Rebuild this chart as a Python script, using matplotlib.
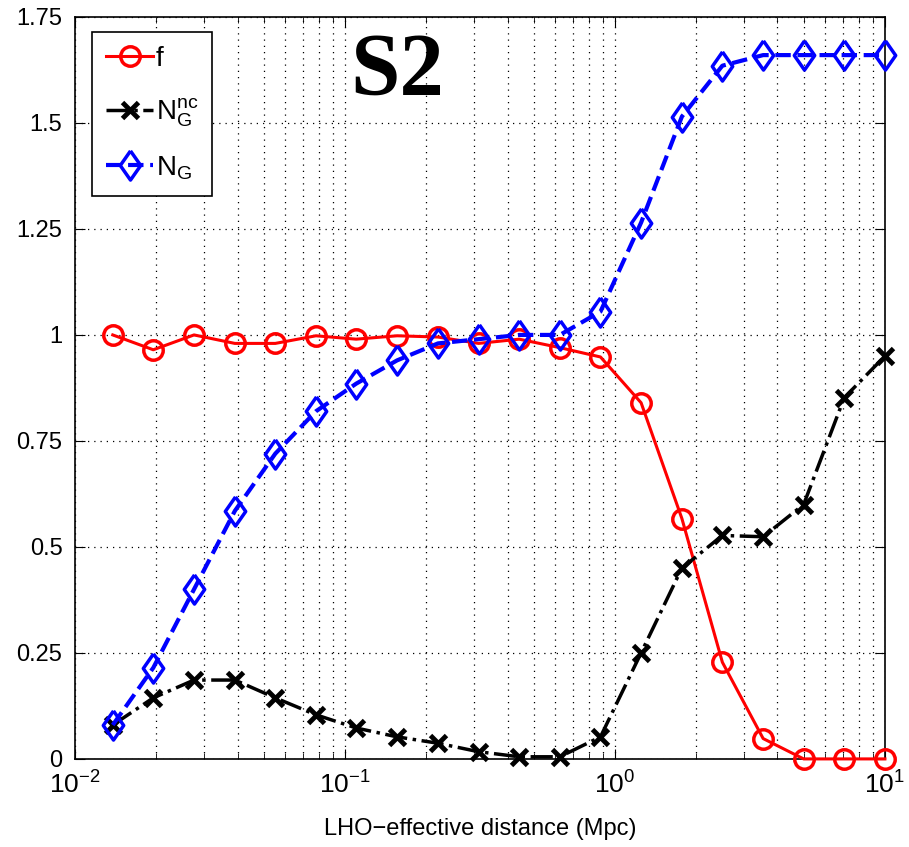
import numpy as np
import matplotlib
matplotlib.use('Agg')
import matplotlib.pyplot as plt

plt.rcParams['font.family'] = ['Liberation Sans', 'DejaVu Sans']
plt.rcParams['mathtext.fontset'] = 'custom'
plt.rcParams['mathtext.rm'] = 'Liberation Sans'
plt.rcParams['mathtext.it'] = 'Liberation Sans'

# LHO-effective distance (Mpc)
dist = [0.0138, 0.0195, 0.0276, 0.0391, 0.0552, 0.0781, 0.110, 0.156, 0.221, 0.3125,
        0.442, 0.625, 0.884, 1.25, 1.77, 2.5, 3.54, 5.0, 7.07, 10.0]

f_vals = [1.0, 0.965, 1.0, 0.98, 0.98, 0.998, 0.99, 0.998, 0.995, 0.98,
          0.99, 0.97, 0.948, 0.84, 0.567, 0.228, 0.048, 0.0, 0.0, 0.0]
ng_nc = [0.08, 0.144, 0.186, 0.186, 0.144, 0.104, 0.073, 0.052, 0.037, 0.017,
         0.005, 0.005, 0.052, 0.25, 0.45, 0.527, 0.524, 0.60, 0.852, 0.95]
ng = [0.08, 0.215, 0.40, 0.585, 0.72, 0.82, 0.885, 0.94, 0.98, 0.99,
      1.0, 1.0, 1.055, 1.265, 1.515, 1.635, 1.66, 1.66, 1.66, 1.66]

yticks = [0, 0.25, 0.5, 0.75, 1, 1.25, 1.5, 1.75]
ytick_labels = ['0', '0.25', '0.5', '0.75', '1', '1.25', '1.5', '1.75']

# matlab-like diamond, a bit taller than wide
diamond = [(0, 1), (0.7, 0), (0, -1), (-0.7, 0), (0, 1)]

fig = plt.figure(figsize=(9.09, 8.47), dpi=100)
ax = fig.add_axes([0.0825, 0.104, 0.891, 0.876])

ax.plot(dist, f_vals, '-', color='red', lw=2.2, marker='o', ms=14,
        mfc='none', mec='red', mew=2.5, label='f', clip_on=False, zorder=3)
ax.plot(dist, ng_nc, '-.', color='black', lw=2.5, marker='x', ms=12,
        mew=3.5, label='$\\mathregular{N_G^{nc}}$', clip_on=False, zorder=3)
ax.plot(dist, ng, '--', color='blue', lw=3, marker=diamond, ms=21,
        mfc='none', mec='blue', mew=2.5, label='$\\mathregular{N_G}$',
        clip_on=False, zorder=3)

ax.set_xscale('log')
ax.set_xlim(1e-2, 1e1)
ax.set_ylim(0, 1.75)
ax.set_yticks(yticks)
ax.set_yticklabels(ytick_labels)

ax.grid(True, which='major', axis='both', color='black', ls=(0, (1, 4)), lw=0.9)
ax.grid(True, which='minor', axis='x', color='black', ls=(0, (1, 4)), lw=0.9)
ax.tick_params(which='both', direction='in', top=True, right=True)
ax.tick_params(axis='y', labelsize=17, pad=9)
ax.tick_params(axis='x', labelsize=19, pad=9)
ax.tick_params(which='major', length=7)
ax.tick_params(which='minor', length=4)
for s in ax.spines.values():
    s.set_linewidth(1.2)

ax.set_xlabel('LHO\u2212effective distance (Mpc)', fontsize=17, labelpad=14)

ax.text(0.34, 0.98, 'S2', transform=ax.transAxes, fontsize=64,
        fontweight='bold', family='Liberation Serif', va='top', ha='left')

leg = ax.legend(loc='upper left', bbox_to_anchor=(0.021, 0.98), fontsize=20,
                fancybox=False, edgecolor='black', framealpha=1,
                handlelength=1.7, handletextpad=0.1, labelspacing=0.9,
                borderpad=0.5, borderaxespad=0)
leg.get_frame().set_linewidth(1.2)

fig.savefig('out.png', dpi=100)
